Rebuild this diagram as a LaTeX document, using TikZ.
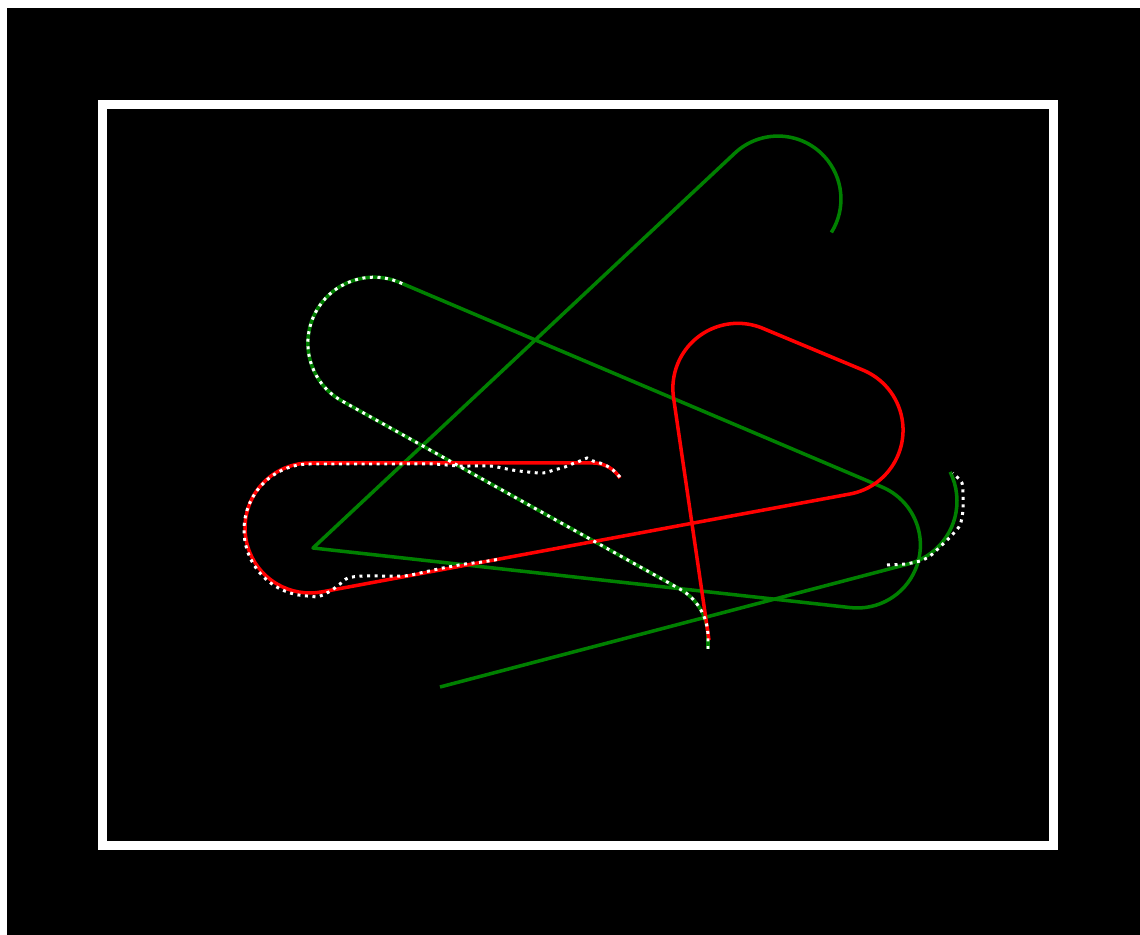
\documentclass[tikz,border=0pt]{standalone}
\definecolor{pathgreen}{RGB}{0,128,0}
\definecolor{pathred}{RGB}{255,0,0}
\tikzset{
    greenpath/.style={pathgreen, line width=2pt, line join=round},
    redpath/.style={pathred, line width=2pt, line join=round},
    trail/.style={white, line width=1.7pt, dash pattern=on 1.7pt off 2.6pt}
}
\begin{document}
\begin{tikzpicture}[x=0.02cm, y=-0.02cm]
    \useasboundingbox (0,0) rectangle (1140,935);
    % Background
    \fill[white] (0,0) rectangle (1140,935);
    \fill[black] (7,8) rectangle (1140,935);

    % Frame
    \draw[white, line width=0.18cm] (102.5,104.5) rectangle (1053.5,845.5);

    % Green path (long)
    \draw[greenpath] (708,649) -- (708,637) arc[start angle=0, end angle=-60.9, radius=55]
        -- (342,401) arc[start angle=118.9, end angle=293, radius=66]
        -- (882,487) arc[start angle=-67, end angle=96.2, radius=63]
        -- (313,548) -- (735,153) arc[start angle=-133, end angle=32, radius=63];

    % Green path (short)
    \draw[greenpath] (440,687) -- (908.6,563.9) arc[start angle=75.2, end angle=-26.6, radius=65];

    % Red path
    \draw[redpath] (620,478) arc[start angle=-32, end angle=-90, radius=32]
        -- (310,463) arc[start angle=-90, end angle=-280.6, radius=65]
        -- (850,494) arc[start angle=79.4, end angle=-68.2, radius=65]
        -- (762,328) arc[start angle=-68.2, end angle=-188, radius=65]
        -- (709,640);

    % Tracked trails
    \draw[trail] (708,649) -- (708,637) arc[start angle=0, end angle=-60.9, radius=55]
        -- (342,401) arc[start angle=118.9, end angle=293, radius=66] -- (403,284);
    \draw[trail] plot[smooth] coordinates
        {(620,477) (613,470) (607,466) (600,463) (593,461) (587,458) (580,461) (572,464)
         (565,467) (554,470) (543,473) (528,472) (512,470) (490,466) (460,466) (433,464) (400,464)}
        -- (310,464) arc[start angle=-90, end angle=-267, radius=66]
        -- plot[smooth] coordinates
        {(317,597) (323,595) (332,590) (340,584) (348,578) (364,576) (403,576) (420,573)
         (443,568) (465,564) (482,562) (500,559)};
    \draw[trail] plot[smooth] coordinates
        {(887,565) (905,564) (920,561) (930,556) (941,546) (952,535) (960,525) (963,510)
         (963,493) (962,483) (958,478) (953,473)};
\end{tikzpicture}
\end{document}
